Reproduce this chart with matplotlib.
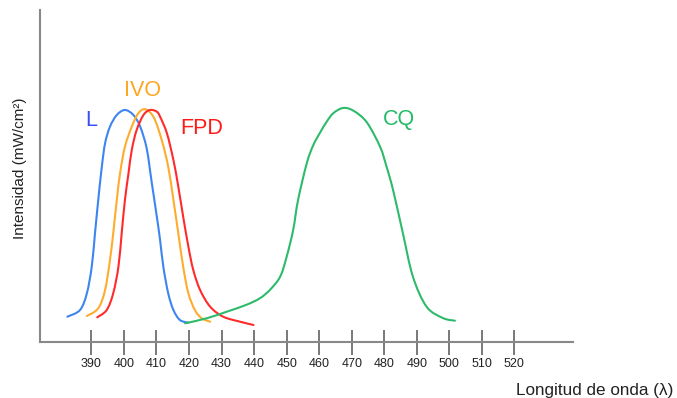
import matplotlib
matplotlib.use("Agg")
import matplotlib.pyplot as plt
from matplotlib.path import Path
from matplotlib.patches import PathPatch

plt.rcParams['font.family'] = ['Liberation Sans', 'DejaVu Sans']

# Data (wavelength nm, intensity arbitrary units)
l_wl = [382.6, 386.5, 388.6, 390.1, 391.1, 392.1, 393.2, 394.2, 395.7, 397.8, 400.3,
        402.9, 405.0, 407.0, 408.5, 410.1, 411.1, 412.1, 413.6, 415.2, 417.2, 419.8]
l_int = [25, 31.7, 48.4, 75, 108.4, 141.7, 175, 198.4, 215, 226.7, 231.7,
         226.7, 215, 193, 160, 125, 101.7, 75, 48.4, 31.7, 21.7, 19]

ivo_wl = [388.6, 392.1, 394.2, 395.7, 396.7, 397.8, 398.8, 400.3, 402.4, 404.4, 406.6,
          409.2, 411.6, 413.6, 415.2, 416.7, 418.2, 419.8, 421.8, 423.9, 426.5]
ivo_int = [25.7, 33.4, 51.7, 81.7, 108.4, 141.7, 168.4, 195, 215, 228.4, 232.4,
           224, 201.7, 175, 141.7, 108.4, 75, 48.4, 31.7, 23.4, 20]

fpd_wl = [391.8, 394.7, 396.7, 398.3, 399.3, 400.3, 401.4, 402.4, 403.9, 406.0, 408.0,
          410.1, 411.1, 413.2, 415.2, 416.7, 418.2, 419.8, 421.3, 423.4, 426.5, 430.5,
          435.7, 439.8]
fpd_int = [24.4, 31.7, 48.4, 75, 108.4, 141.7, 168.4, 191.7, 211.7, 226.7, 231.7,
           230, 225, 208.4, 181.7, 155, 125, 95, 71.7, 51.7, 35, 25, 20, 16.7]

cq_wl = [418.8, 425.4, 431.6, 437.7, 441.8, 444.9, 448.0, 450.0, 452.0, 453.5, 456.2,
         458.2, 460.2, 462.3, 464.3, 467.3, 470.5, 474.6, 478.7, 480.7, 482.7,
         485.7, 488.8, 493.0, 498.0, 501.7]
cq_int = [18.4, 23.4, 30, 37, 43.5, 52, 65, 85, 111.7, 141.7, 178.7,
          196.7, 208.7, 220, 228.4, 233.7, 231, 219.5, 195, 175, 151.7,
          108.7, 65, 35, 23.7, 21]

ticks = [390, 400, 410, 420, 430, 440, 450, 460, 470, 480, 490, 500, 510, 520]

fig = plt.figure(figsize=(6.77, 3.98), dpi=100)
ax = fig.add_axes([40/677, 1 - 341.7/398, (572.7 - 40)/677, (341.7 - 10)/398])

blue = '#3d85f0'
orange = '#ffab2e'
red = '#ff2b2b'
green = '#2dbb6b'


def smooth_curve(ax, xs, ys, color):
    # Catmull-Rom spline through the data points, drawn as cubic Bezier in data coords
    pts = list(zip(xs, ys))
    verts = [pts[0]]
    codes = [Path.MOVETO]
    n = len(pts)
    for i in range(n - 1):
        p0 = pts[i - 1] if i > 0 else pts[i]
        p1 = pts[i]
        p2 = pts[i + 1]
        p3 = pts[i + 2] if i + 2 < n else pts[i + 1]
        c1 = (p1[0] + (p2[0] - p0[0]) / 6.0, p1[1] + (p2[1] - p0[1]) / 6.0)
        c2 = (p2[0] - (p3[0] - p1[0]) / 6.0, p2[1] - (p3[1] - p1[1]) / 6.0)
        verts += [c1, c2, p2]
        codes += [Path.CURVE4, Path.CURVE4, Path.CURVE4]
    patch = PathPatch(Path(verts, codes), facecolor='none', edgecolor=color,
                      lw=1.5, capstyle='round', joinstyle='round')
    ax.add_patch(patch)


smooth_curve(ax, l_wl, l_int, blue)
smooth_curve(ax, ivo_wl, ivo_int, orange)
smooth_curve(ax, fpd_wl, fpd_int, red)
smooth_curve(ax, cq_wl, cq_int, green)

ax.text(390.1, 221.7, 'L', color='#3a4cf5', fontsize=15.5, ha='center', va='center')
ax.text(405.7, 251, 'IVO', color='#ffa520', fontsize=15.5, ha='center', va='center')
ax.text(423.8, 213.4, 'FPD', color='#ff1a1a', fontsize=15.5, ha='center', va='center')
ax.text(484.6, 221.7, 'CQ', color='#22bb66', fontsize=15.5, ha='center', va='center')

ax.set_xlim(374.2, 537.9)
ax.set_ylim(0, 331.7)
ax.set_xticks(ticks)
ax.set_xticklabels([str(t) for t in ticks], fontsize=9, color='#222222')
ax.tick_params(axis='x', direction='inout', length=18, width=1.1, color='#555555', pad=2.5)
ax.set_yticks([])
for s in ['top', 'right']:
    ax.spines[s].set_visible(False)
for s in ['left', 'bottom']:
    ax.spines[s].set_color('#888888')
    ax.spines[s].set_linewidth(1.5)

fig.text(673/677, 1 - 390.7/398, 'Longitud de onda (λ)', fontsize=12.3,
         ha='right', va='center', color='#222222')
fig.text(20/677, 1 - 168/398, 'Intensidad (mW/cm²)', fontsize=11, rotation=90,
         ha='center', va='center', color='#222222')

fig.savefig('out.png', dpi=100)
